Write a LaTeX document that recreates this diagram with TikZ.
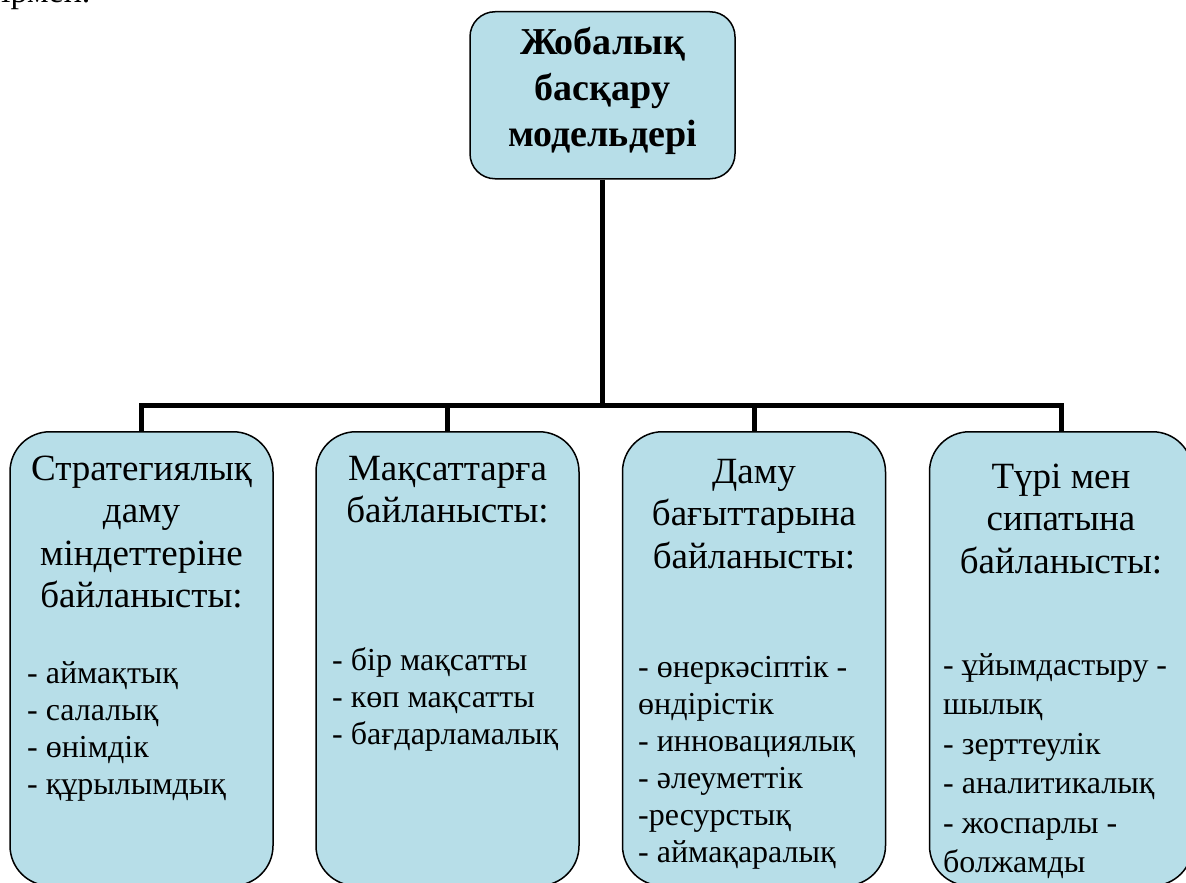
\documentclass[tikz,border=0pt]{standalone}
\usepackage{fontspec}
\setmainfont{Liberation Serif}
\definecolor{boxfill}{HTML}{B7DEE8}
\newcommand\ctab[1]{\begin{tabular}[t]{@{}c@{}}#1\end{tabular}}
\newcommand\ltab[1]{\begin{tabular}[t]{@{}l@{}}#1\end{tabular}}
\begin{document}
\begin{tikzpicture}[x=1pt,y=-1pt,
  box/.style={draw=black, line width=1.5pt, fill=boxfill, rounded corners=40pt,
    minimum width=263pt, minimum height=454pt, inner sep=0pt, anchor=north},
  topbox/.style={draw=black, line width=1.5pt, fill=boxfill, rounded corners=25pt,
    minimum width=265pt, minimum height=167pt, inner sep=0pt, anchor=north},
  conn/.style={line width=5pt, line join=miter, draw=black},
  hdr/.style={inner sep=0pt, anchor=base, font=\fontsize{37}{42.5}\selectfont},
  lst/.style={inner sep=0pt, anchor=base west, font=\fontsize{32}{37}\selectfont},
  lstb/.style={inner sep=0pt, anchor=base west, font=\fontsize{32}{39.5}\selectfont},
  ttl/.style={inner sep=0pt, anchor=base, font=\fontsize{38}{46}\selectfont\bfseries},
  frag/.style={inner sep=0pt, anchor=base west, font=\fontsize{34}{37}\selectfont}]
\useasboundingbox (0,0) rectangle (1186,883);
\node[frag] (prev) at (1,3) {ірмен.};
% boxes
\coordinate (bar) at (602.5,405.5);
\node[topbox] (top) at (602.5,11) {};
\node[box] (b1) at (141.5,431) {};
\node[box] (b2) at (447.5,431) {};
\node[box] (b3) at (754,431) {};
\node[box] (b4) at (1061,431) {};
% connectors
\draw[conn] (top.south) -- (top.south |- bar);
\draw[conn] (b1.north) -- (b1.north |- bar) -- (b4.north |- bar) -- (b4.north);
\draw[conn] (b2.north) -- (b2.north |- bar);
\draw[conn] (b3.north) -- (b3.north |- bar);
% texts
\node[ttl] (ttext) at (602.5,55) {\ctab{Жобалық\\басқару\\модельдері}};
\node[hdr] (h1) at (141.5,480) {\ctab{Стратегиялық\\даму\\міндеттеріне\\байланысты:}};
\node[lst] (l1) at (27,683) {\ltab{- аймақтық\\- салалық\\- өнімдік\\- құрылымдық}};
\node[hdr] (h2) at (447.5,480) {\ctab{Мақсаттарға\\байланысты:}};
\node[lst] (l2) at (332,670) {\ltab{- бір мақсатты\\- көп мақсатты\\- бағдарламалық}};
\node[hdr] (h3) at (754,483) {\ctab{Даму\\бағыттарына\\байланысты:}};
\node[lst] (l3) at (638,677) {\ltab{- өнеркәсіптік -\\өндірістік\\- инновациялық\\- әлеуметтік\\-ресурстық\\- аймақаралық}};
\node[hdr] (h4) at (1061,488) {\ctab{Түрі мен\\сипатына\\байланысты:}};
\node[lstb] (l4) at (943,675) {\ltab{- ұйымдастыру -\\шылық\\- зерттеулік\\- аналитикалық\\- жоспарлы -\\болжамды}};
\end{tikzpicture}
\end{document}
